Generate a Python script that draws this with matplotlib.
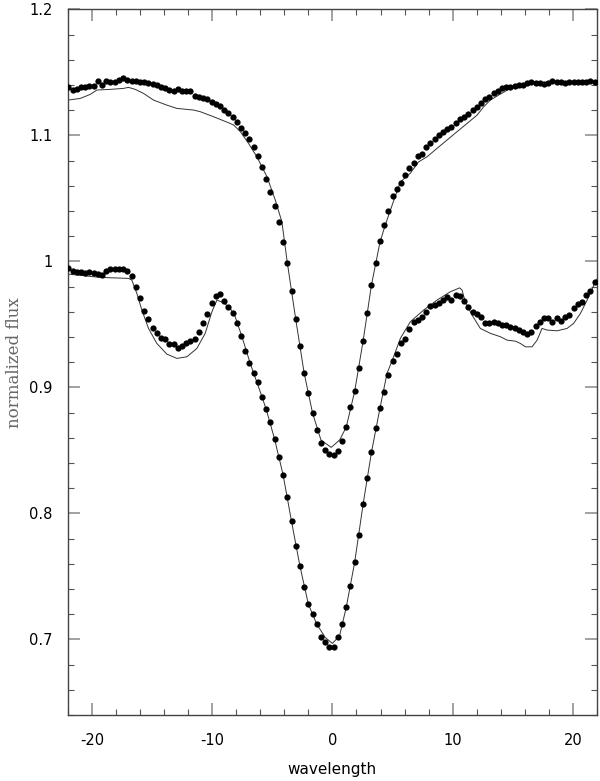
import matplotlib
matplotlib.use("Agg")
import matplotlib.pyplot as plt
from matplotlib.ticker import MultipleLocator, FormatStrFormatter

plt.rcParams["axes.unicode_minus"] = False

# observed spectra: wavelength grid and the two normalized profiles
wave = [
    -21.95, -21.60, -21.25, -20.90, -20.55, -20.20, -19.85, -19.50, -19.15, -18.80,
    -18.45, -18.10, -17.75, -17.40, -17.05, -16.70, -16.35, -16.00, -15.65, -15.30,
    -14.95, -14.60, -14.25, -13.90, -13.55, -13.20, -12.85, -12.50, -12.15, -11.80,
    -11.45, -11.10, -10.75, -10.40, -10.05, -9.70, -9.35, -9.00, -8.65, -8.30,
    -7.95, -7.60, -7.25, -6.90, -6.55, -6.20, -5.85, -5.50, -5.15, -4.80,
    -4.45, -4.10, -3.75, -3.40, -3.05, -2.70, -2.35, -2.00, -1.65, -1.30,
    -0.95, -0.60, -0.25, 0.10, 0.45, 0.80, 1.15, 1.50, 1.85, 2.20,
    2.55, 2.90, 3.25, 3.60, 3.95, 4.30, 4.65, 5.00, 5.35, 5.70,
    6.05, 6.40, 6.75, 7.10, 7.45, 7.80, 8.15, 8.50, 8.85, 9.20,
    9.55, 9.90, 10.25, 10.60, 10.95, 11.30, 11.65, 12.00, 12.35, 12.70,
    13.05, 13.40, 13.75, 14.10, 14.45, 14.80, 15.15, 15.50, 15.85, 16.20,
    16.55, 16.90, 17.25, 17.60, 17.95, 18.30, 18.65, 19.00, 19.35, 19.70,
    20.05, 20.40, 20.75, 21.10, 21.45, 21.80,
]

flux_top = [
    1.1380, 1.1360, 1.1370, 1.1380, 1.1386, 1.1391, 1.1394, 1.1431, 1.1399, 1.1434,
    1.1426, 1.1426, 1.1439, 1.1452, 1.1439, 1.1434, 1.1431, 1.1426, 1.1426, 1.1418,
    1.1407, 1.1399, 1.1386, 1.1373, 1.1360, 1.1352, 1.1365, 1.1354, 1.1354, 1.1354,
    1.1312, 1.1301, 1.1293, 1.1285, 1.1267, 1.1248, 1.1232, 1.1201, 1.1174, 1.1148,
    1.1108, 1.1055, 1.1016, 1.0968, 1.0910, 1.0838, 1.0751, 1.0653, 1.0553, 1.0440,
    1.0314, 1.0156, 0.9984, 0.9767, 0.9542, 0.9325, 0.9114, 0.8955, 0.8796, 0.8661,
    0.8560, 0.8502, 0.8471, 0.8463, 0.8497, 0.8576, 0.8685, 0.8841, 0.8968, 0.9153,
    0.9367, 0.9592, 0.9814, 0.9984, 1.0164, 1.0288, 1.0402, 1.0518, 1.0576, 1.0624,
    1.0685, 1.0738, 1.0783, 1.0836, 1.0852, 1.0905, 1.0941, 1.0968, 1.1002, 1.1029,
    1.1048, 1.1068, 1.1095, 1.1127, 1.1143, 1.1169, 1.1201, 1.1227, 1.1254, 1.1286,
    1.1306, 1.1333, 1.1352, 1.1373, 1.1381, 1.1386, 1.1391, 1.1399, 1.1399, 1.1417,
    1.1425, 1.1417, 1.1417, 1.1407, 1.1417, 1.1433, 1.1425, 1.1420, 1.1417, 1.1425,
    1.1425, 1.1425, 1.1420, 1.1425, 1.1430, 1.1425,
]

flux_bottom = [
    0.9944, 0.9926, 0.9918, 0.9913, 0.9910, 0.9918, 0.9910, 0.9899, 0.9891, 0.9926,
    0.9939, 0.9936, 0.9936, 0.9939, 0.9926, 0.9883, 0.9799, 0.9706, 0.9606, 0.9542,
    0.9468, 0.9434, 0.9394, 0.9381, 0.9346, 0.9344, 0.9312, 0.9330, 0.9349, 0.9370,
    0.9381, 0.9439, 0.9513, 0.9582, 0.9666, 0.9725, 0.9738, 0.9685, 0.9640, 0.9592,
    0.9508, 0.9407, 0.9291, 0.9196, 0.9111, 0.9040, 0.8923, 0.8825, 0.8722, 0.8587,
    0.8449, 0.8306, 0.8127, 0.7937, 0.7743, 0.7582, 0.7418, 0.7280, 0.7201, 0.7121,
    0.7016, 0.6976, 0.6941, 0.6941, 0.7021, 0.7119, 0.7254, 0.7426, 0.7611, 0.7825,
    0.8071, 0.8280, 0.8486, 0.8675, 0.8833, 0.8965, 0.9095, 0.9211, 0.9262, 0.9349,
    0.9381, 0.9463, 0.9516, 0.9534, 0.9560, 0.9600, 0.9645, 0.9653, 0.9667, 0.9693,
    0.9714, 0.9693, 0.9732, 0.9725, 0.9687, 0.9635, 0.9595, 0.9582, 0.9556, 0.9508,
    0.9513, 0.9521, 0.9513, 0.9494, 0.9494, 0.9476, 0.9468, 0.9455, 0.9441, 0.9421,
    0.9441, 0.9486, 0.9521, 0.9548, 0.9548, 0.9521, 0.9548, 0.9529, 0.9556, 0.9574,
    0.9627, 0.9661, 0.9679, 0.9732, 0.9767, 0.9838,
]

# synthetic (model) profiles
model_top_x = [
    -22.0, -20.97, -20.14, -19.58, -18.47, -17.36, -16.95, -16.39, -15.70, -14.87,
    -13.76, -12.93, -11.54, -10.99, -9.88, -8.63, -8.21, -7.65, -6.97, -6.28,
    -5.44, -4.75, -4.20, -3.75, -3.05, -2.35, -1.65, -0.95, -0.10, 0.60,
    1.15, 1.85, 2.55, 3.25, 3.95, 4.40, 5.09, 5.65, 6.48, 7.17,
    7.87, 8.70, 9.53, 10.36, 11.20, 12.03, 12.58, 13.13, 13.97, 14.80,
    15.63, 16.74, 18.12, 19.51, 20.90, 22.0,
]
model_top_y = [
    1.1280, 1.1293, 1.1325, 1.1360, 1.1365, 1.1373, 1.1381, 1.1365, 1.1333, 1.1280,
    1.1240, 1.1214, 1.1201, 1.1188, 1.1148, 1.1100, 1.1082, 1.1029, 1.0936, 1.0830,
    1.0672, 1.0487, 1.0314, 0.9990, 0.9542, 0.9114, 0.8796, 0.8582, 0.8524, 0.8582,
    0.8685, 0.8968, 0.9367, 0.9814, 1.0150, 1.0290, 1.0480, 1.0630, 1.0700, 1.0790,
    1.0830, 1.0897, 1.0963, 1.1029, 1.1095, 1.1161, 1.1227, 1.1280, 1.1328, 1.1373,
    1.1399, 1.1412, 1.1420, 1.1425, 1.1430, 1.1430,
]

model_bottom_x = [
    -22.0, -19.31, -16.96, -16.68, -16.26, -15.84, -15.29, -14.60, -13.76, -12.93,
    -12.10, -11.27, -10.58, -10.02, -9.60, -9.05, -8.50, -8.08, -7.52, -6.83,
    -6.00, -5.50, -4.80, -4.10, -3.40, -2.70, -2.00, -1.30, -0.60, 0.00,
    0.60, 1.15, 1.85, 2.55, 3.25, 3.95, 4.54, 5.09, 5.65, 6.48,
    7.58, 8.70, 9.81, 10.58, 10.78, 11.05, 11.61, 12.30, 13.13, 13.97,
    14.52, 15.21, 15.63, 16.05, 16.60, 17.02, 17.43, 17.85, 18.68, 19.51,
    20.06, 20.62, 21.18, 21.87, 22.0,
]
model_bottom_y = [
    0.9899, 0.9873, 0.9865, 0.9852, 0.9746, 0.9613, 0.9468, 0.9349, 0.9264, 0.9230,
    0.9243, 0.9309, 0.9428, 0.9600, 0.9693, 0.9672, 0.9627, 0.9560, 0.9402, 0.9190,
    0.8965, 0.8825, 0.8587, 0.8306, 0.7937, 0.7582, 0.7280, 0.7121, 0.7016, 0.6968,
    0.7030, 0.7254, 0.7611, 0.8071, 0.8486, 0.8833, 0.9111, 0.9243, 0.9389, 0.9521,
    0.9613, 0.9693, 0.9759, 0.9790, 0.9772, 0.9679, 0.9574, 0.9468, 0.9429, 0.9402,
    0.9375, 0.9367, 0.9349, 0.9322, 0.9322, 0.9375, 0.9468, 0.9455, 0.9449, 0.9468,
    0.9508, 0.9587, 0.9693, 0.9838, 0.9860,
]

fig = plt.figure(figsize=(6.0, 7.81), dpi=100)
ax = fig.add_axes([0.113, 0.0845, 0.882, 0.9035])

# models as thin lines, observations as filled dots
ax.plot(model_top_x, model_top_y, color="#333333", lw=0.7, zorder=2)
ax.plot(model_bottom_x, model_bottom_y, color="#333333", lw=0.7, zorder=2)
ax.plot(wave, flux_top, "o", color="black", ms=4.5, mew=0, zorder=3)
ax.plot(wave, flux_bottom, "o", color="black", ms=4.5, mew=0, zorder=3)

ax.set_xlim(-22, 22)
ax.set_ylim(0.64, 1.2)

ax.xaxis.set_major_locator(MultipleLocator(10))
ax.xaxis.set_minor_locator(MultipleLocator(2))
ax.yaxis.set_major_locator(MultipleLocator(0.1))
ax.yaxis.set_minor_locator(MultipleLocator(0.02))
ax.xaxis.set_major_formatter(FormatStrFormatter("%g"))
ax.yaxis.set_major_formatter(FormatStrFormatter("%g"))

ax.tick_params(which="both", direction="in", top=True, right=True,
               labelsize=10.5, labelcolor="black")
ax.tick_params(which="major", length=8.5, width=1.1, color="#888888")
ax.tick_params(which="minor", length=4.3, width=0.8, color="#555555")
ax.tick_params(axis="x", which="major", pad=13)
ax.tick_params(axis="y", which="major", pad=11)

for sp in ax.spines.values():
    sp.set_color("#444444")
    sp.set_linewidth(1.0)

ax.set_xlabel("wavelength", fontsize=11)
ax.xaxis.set_label_coords(0.5, -0.066)
ax.set_ylabel("normalized flux", fontsize=12, family="DejaVu Serif", color="#666666")
ax.yaxis.set_label_coords(-0.084, 0.5)

fig.savefig("out.png", dpi=100)
